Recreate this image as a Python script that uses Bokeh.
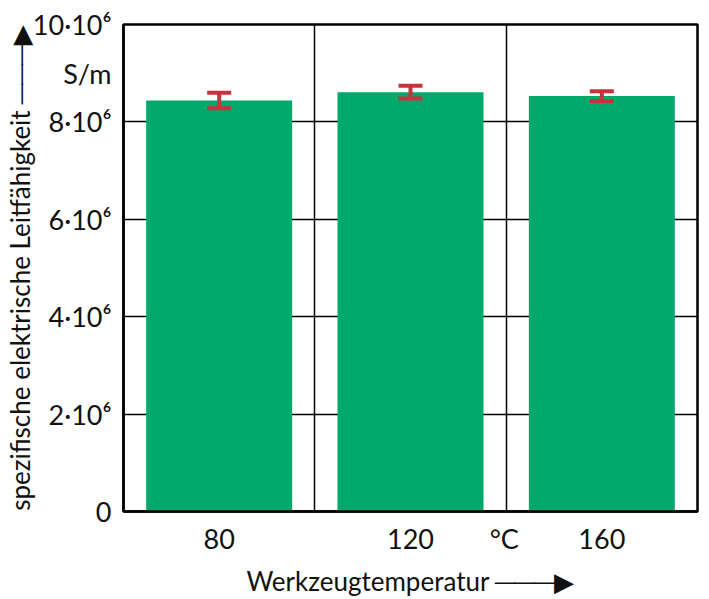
from bokeh.plotting import figure
from bokeh.models import FixedTicker, Whisker, ColumnDataSource, TeeHead, Range1d
from bokeh.embed import file_html
from bokeh.resources import INLINE

# ---- data ----
temps = ["80", "120", "160"]
conductivity = [8.44e6, 8.61e6, 8.53e6]
conductivity_err = [0.16e6, 0.13e6, 0.10e6]
y_ticks = [0, 2e6, 4e6, 6e6, 8e6, 10e6]
y_tick_labels = ["0", "2·10⁶", "4·10⁶", "6·10⁶", "8·10⁶", "10·10⁶"]
x_unit = "°C"
y_unit = "S/m"
x_title = "Werkzeugtemperatur ───▶"
y_title = "spezifische elektrische Leitfähigkeit ───▶"

FONT = "Lato, DejaVu Sans"
FS = "27px"
TFS = "26px"
TXT = "#111111"
GREEN = "#00a86b"
RED = "#c8323c"

xs = [i + 0.5 for i in range(len(temps))]
src = ColumnDataSource(dict(
    x=xs, top=conductivity,
    upper=[v + e for v, e in zip(conductivity, conductivity_err)],
    lower=[v - e for v, e in zip(conductivity, conductivity_err)],
))

p = figure(width=709, height=599, x_range=Range1d(0, len(temps)),
           y_range=Range1d(y_ticks[0], y_ticks[-1]),
           output_backend="svg", toolbar_location=None,
           min_border_left=122, min_border_right=12,
           min_border_top=24, min_border_bottom=86)
p.background_fill_color = "white"
p.border_fill_color = "white"
p.outline_line_color = "black"
p.outline_line_width = 2.5

p.vbar(x="x", top="top", width=0.763, source=src,
       fill_color=GREEN, line_color=None)

w = Whisker(base="x", upper="upper", lower="lower", source=src,
            line_color=RED, line_width=4, level="overlay",
            upper_head=TeeHead(size=24, line_color=RED, line_width=4),
            lower_head=TeeHead(size=24, line_color=RED, line_width=4))
p.add_layout(w)

# grids
p.xgrid.ticker = FixedTicker(ticks=[1, 2])
p.ygrid.ticker = FixedTicker(ticks=y_ticks[1:-1])
for g in (p.xgrid, p.ygrid):
    g.grid_line_color = "black"
    g.grid_line_width = 1.5
    g.grid_line_alpha = 1.0

# x axis
x_unit_pos = 1.99
p.xaxis.ticker = FixedTicker(ticks=xs + [x_unit_pos])
ov = {x: t for x, t in zip(xs, temps)}
ov[x_unit_pos] = x_unit
p.xaxis.major_label_overrides = ov
# y axis
y_unit_pos = 9e6
p.yaxis.ticker = FixedTicker(ticks=y_ticks + [y_unit_pos])
yov = {y: t for y, t in zip(y_ticks, y_tick_labels)}
yov[y_unit_pos] = y_unit
p.yaxis.major_label_overrides = yov

for ax in (p.xaxis, p.yaxis):
    ax.major_tick_line_color = None
    ax.minor_tick_line_color = None
    ax.major_tick_out = 0
    ax.major_tick_in = 0
    ax.axis_line_color = "black"
    ax.axis_line_width = 2.5
    ax.major_label_text_font = FONT
    ax.major_label_text_font_size = FS
    ax.major_label_text_color = TXT
    ax.axis_label_text_font = FONT
    ax.axis_label_text_font_size = TFS
    ax.axis_label_text_font_style = "normal"
    ax.axis_label_text_color = TXT
p.yaxis.major_label_standoff = 12
p.xaxis.major_label_standoff = 10
p.xaxis.axis_label = x_title
p.yaxis.axis_label = y_title
p.xaxis.axis_label_standoff = 7
p.yaxis.axis_label_standoff = -6

open("out.html", "w").write(file_html(p, INLINE))
